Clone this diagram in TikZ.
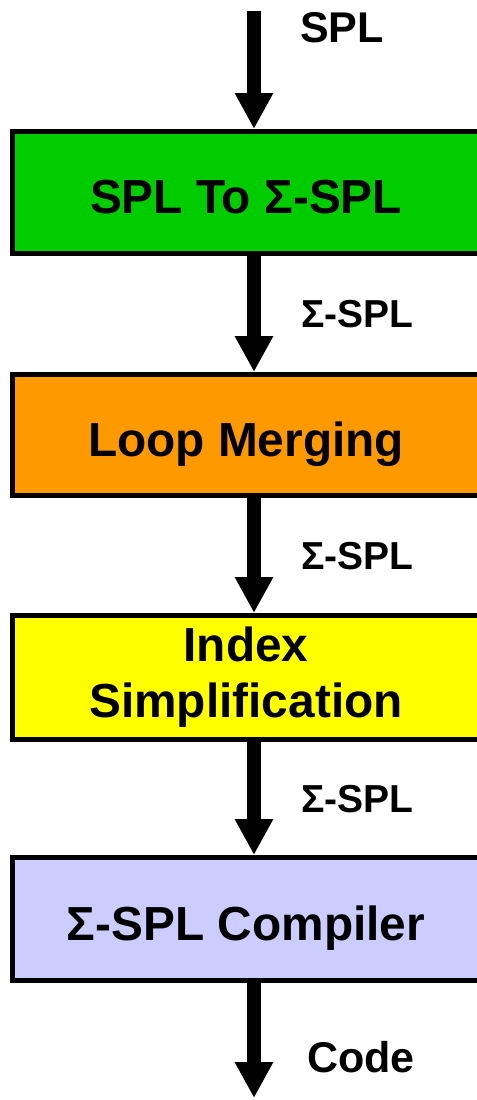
\documentclass[tikz,border=0pt]{standalone}
\usepackage{fontspec}
\setmainfont{Liberation Sans}
\usetikzlibrary{arrows.meta}
\definecolor{cgreen}{HTML}{00CC00}
\definecolor{corange}{HTML}{FF9900}
\definecolor{cyellow}{HTML}{FFFF00}
\definecolor{cpurple}{HTML}{CCCCFF}
\begin{document}
\begin{tikzpicture}[x=1bp,y=-1bp,
  stagebox/.style={draw=black, line width=5bp, minimum width=467bp, inner sep=0pt,
    font=\bfseries\fontsize{47.8bp}{56bp}\selectfont, text height=42bp, text depth=0bp},
  flowlabel/.style={anchor=base west, inner sep=0pt, font=\bfseries\fontsize{39bp}{46bp}\selectfont},
  biglabel/.style={flowlabel, font=\bfseries\fontsize{43bp}{50bp}\selectfont},
  flowarrow/.style={line width=14bp, -{Triangle[width=36bp,length=36bp]}}]
\useasboundingbox[fill=white] (0,0) rectangle (477,1100);
\coordinate (ax) at (254,0);
\coordinate (in) at (254,11);
\coordinate (out) at (254,1098);
\node[stagebox, fill=cgreen, minimum height=122bp] (s1) at (246,192.5) {SPL To Σ-SPL};
\node[stagebox, fill=corange, minimum height=121bp] (s2) at (246,435) {Loop Merging};
\node[stagebox, fill=cyellow, minimum height=124bp, align=center, text height=, text depth=] (s3) at (246,677.5) {Index\\Simplification};
\node[stagebox, fill=cpurple, minimum height=123bp] (s4) at (246,919) {Σ-SPL Compiler};
\draw[flowarrow] (in) -- (s1.north -| ax);
\draw[flowarrow] (s1.south -| ax) -- (s2.north -| ax);
\draw[flowarrow] (s2.south -| ax) -- (s3.north -| ax);
\draw[flowarrow] (s3.south -| ax) -- (s4.north -| ax);
\draw[flowarrow] (s4.south -| ax) -- (out);
\node[biglabel] (l0) at (300,42) {SPL};
\node[flowlabel] (l1) at (301,327) {Σ-SPL};
\node[flowlabel] (l2) at (301,569) {Σ-SPL};
\node[flowlabel] (l3) at (301,812) {Σ-SPL};
\node[biglabel] (l4) at (307,1072) {Code};
\end{tikzpicture}
\end{document}
